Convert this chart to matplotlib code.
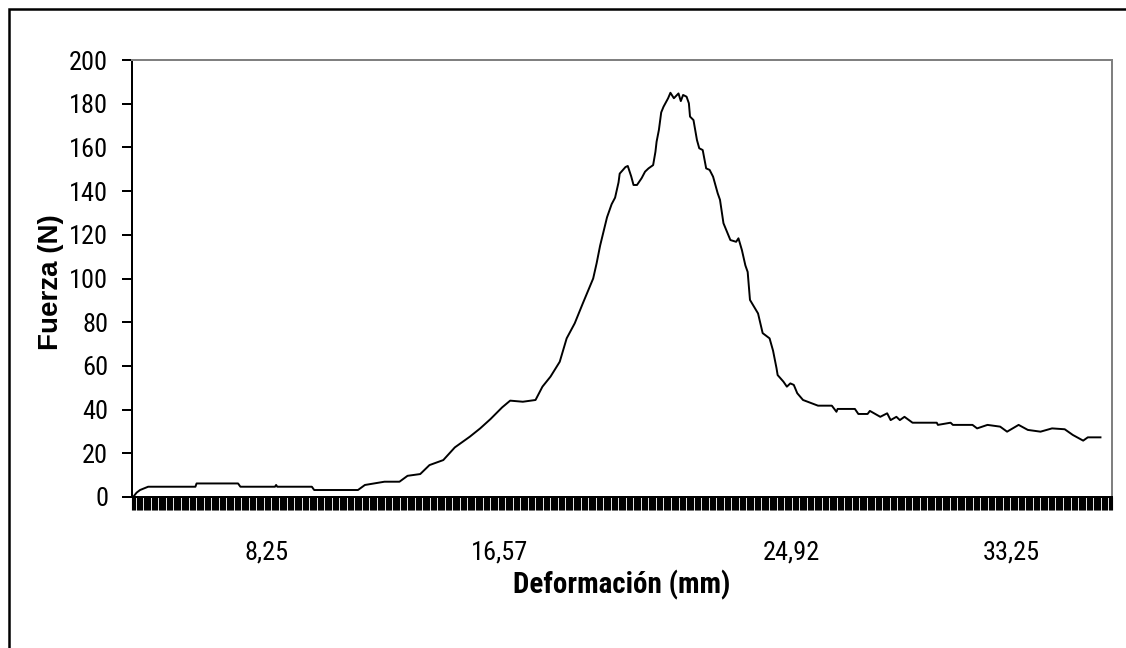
import numpy as np
import matplotlib
matplotlib.use("Agg")
import matplotlib.pyplot as plt
from matplotlib.patches import Rectangle
from matplotlib import font_manager

# ---- data (sample index along the category axis, force in N) ----
n_categories = 850
sample_idx = [1, 4, 7, 14, 55, 56, 92, 94, 124, 125, 126, 156, 158, 196, 202, 219, 232,
              239, 250, 258, 270, 280, 293, 302, 311, 321, 328, 339, 350, 356, 363, 371,
              377, 384, 391, 400, 403, 406, 412, 416, 419, 422, 423, 428, 430, 433, 435,
              438, 442, 445, 448, 452, 454, 455, 457, 459, 461, 465, 467, 470, 474, 476,
              478, 481, 483, 484, 487, 488, 490, 492, 495, 498, 501, 504, 508, 510, 513,
              519, 524, 526, 529, 532, 534, 536, 543, 547, 553, 556, 559, 560, 565, 568,
              571, 574, 577, 582, 588, 595, 607, 611, 612, 627, 630, 638, 640, 649, 655,
              658, 663, 666, 670, 677, 692, 698, 699, 710, 712, 729, 733, 742, 753, 759,
              769, 777, 788, 798, 809, 816, 825, 829, 840]
fuerza = [0, 2, 3.2, 4.7, 4.7, 6.2, 6.2, 4.7, 4.7, 5.5, 4.7, 4.7, 3.2, 3.2, 5.5, 7, 7,
          9.7, 10.5, 14.6, 16.9, 22.7, 27.6, 31.4, 35.7, 41, 44.1, 43.6, 44.4, 50.5, 55.1, 61.9,
          72.6, 79.5, 88.6, 100, 107, 115, 128, 134, 137, 144, 148, 151, 151.5, 146.7, 142.8,
          142.8, 145.9, 148.9, 150.4, 151.9, 158, 162.6, 168, 176, 178.6, 182.5, 185, 182.5, 184.7, 181.2,
          184, 183.2, 180.2, 174.1, 172.5, 169.5, 163.4, 159.6, 158.8, 150.4, 149.7, 146.6, 139, 136, 125.3,
          117.6, 116.8, 118.4, 113, 106, 103, 90.2, 84, 75, 72.6, 67, 59, 55.8, 52.8, 50.5,
          52, 51.3, 47.5, 44.4, 43.2, 41.8, 41.8, 39, 40.3, 40.3, 38, 38, 39.4, 36.7, 38.3,
          35.2, 36.7, 35.2, 36.7, 34, 34, 34, 33, 34, 33, 33, 31.4, 33, 32.2, 29.9,
          33, 30.7, 29.9, 31.4, 31, 28.4, 25.8, 27.3, 27.3]

label_idx = [117, 319, 572, 763]
x_tick_labels = ["8,25", "16,57", "24,92", "33,25"]
y_ticks = [0, 20, 40, 60, 80, 100, 120, 140, 160, 180, 200]

installed = {f.name for f in font_manager.fontManager.ttflist}
condensed = None
for cand in ["Liberation Sans Narrow", "DejaVu Sans Condensed", "Roboto Condensed",
             "Open Sans Condensed", "Noto Sans Condensed", "Arial Narrow"]:
    if cand in installed:
        condensed = cand
        break
if condensed is not None:
    narrow = [condensed, "DejaVu Sans"]
    tick_fs, xlab_fs, ylab_fs = 19, 21, 20
else:
    narrow = ["Liberation Sans", "DejaVu Sans"]
    tick_fs, xlab_fs, ylab_fs = 16, 17.5, 17.5
regular = ["Liberation Sans", "DejaVu Sans"]

fig = plt.figure(figsize=(11.26, 6.48), dpi=100)
fig.patch.set_facecolor("white")

# outer chart-area border (top and left visible, right/bottom cropped)
fig.add_artist(Rectangle((9 / 1126, -0.1), 1.2, 1.1 - 9.5 / 648,
                         transform=fig.transFigure, fill=False,
                         edgecolor="black", linewidth=1.8, clip_on=False))

ax = fig.add_axes([132 / 1126, 1 - 497 / 648, 980 / 1126, 437 / 648])
ax.plot(sample_idx, fuerza, color="black", linewidth=1.4)

ax.set_xlim(0, n_categories)
ax.set_ylim(0, 200)
ax.set_yticks(y_ticks)
ax.set_yticklabels([str(v) for v in y_ticks], family=narrow, fontsize=tick_fs)

ax.set_xticks(label_idx)
ax.set_xticklabels(x_tick_labels, family=narrow, fontsize=tick_fs)
ax.set_xticks(np.arange(0, n_categories + 1), minor=True)

ax.tick_params(axis="y", direction="out", length=7.2, width=1.44, pad=10, colors="black")
ax.tick_params(axis="x", which="major", direction="out", length=9.4, width=0.8, pad=22)
ax.tick_params(axis="x", which="minor", direction="out", length=9.4, width=0.8)
for t in ax.xaxis.get_minor_ticks() + ax.xaxis.get_major_ticks():
    t.tick1line.set_antialiased(False)

for side in ("left", "bottom"):
    ax.spines[side].set_color("black")
    ax.spines[side].set_linewidth(1.44)
for side in ("top", "right"):
    ax.spines[side].set_color("#808080")
    ax.spines[side].set_linewidth(1.44)

ax.set_xlabel("Deformación (mm)", family=narrow, fontsize=xlab_fs, fontweight="bold")
ax.xaxis.set_label_coords((622 - 132) / 980, -(585 - 497) / 437)
ax.xaxis.label.set_va("center")

ax.set_ylabel("Fuerza (N)", family=regular, fontsize=ylab_fs, fontweight="bold")
ax.yaxis.set_label_coords(-(132 - 51) / 980, (497 - 282) / 437)
ax.yaxis.label.set_va("center")

fig.savefig("out.png", dpi=100)
